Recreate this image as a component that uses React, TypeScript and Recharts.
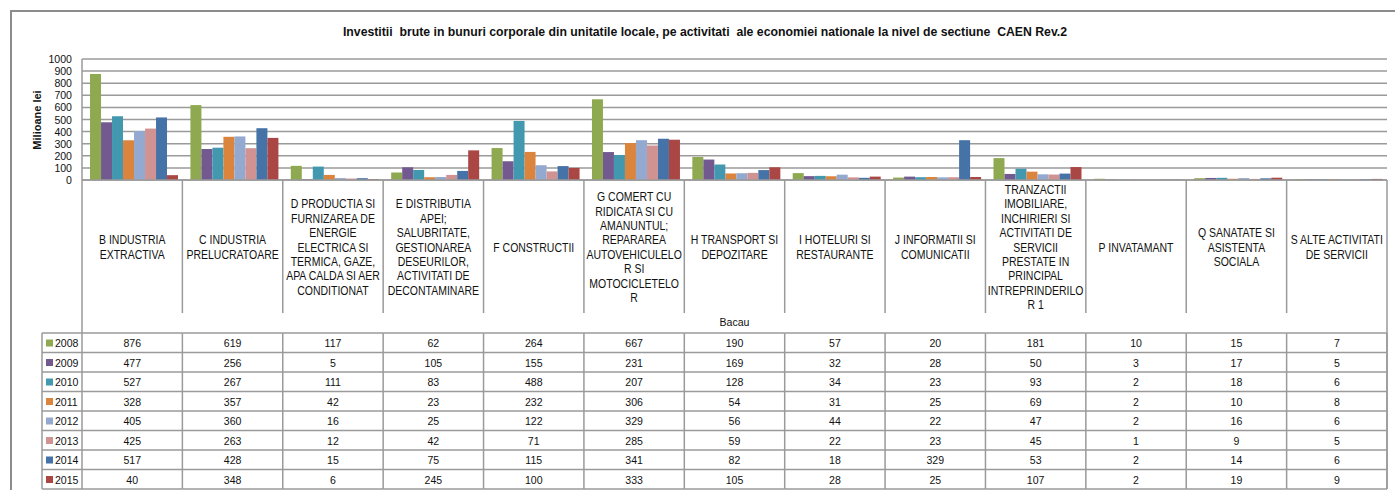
import { BarChart, Bar, XAxis, YAxis, CartesianGrid } from "recharts";

const categories = [
  "B INDUSTRIA\nEXTRACTIVA",
  "C INDUSTRIA\nPRELUCRATOARE",
  "D PRODUCTIA SI\nFURNIZAREA DE\nENERGIE\nELECTRICA SI\nTERMICA, GAZE,\nAPA CALDA SI AER\nCONDITIONAT",
  "E DISTRIBUTIA\nAPEI;\nSALUBRITATE,\nGESTIONAREA\nDESEURILOR,\nACTIVITATI DE\nDECONTAMINARE",
  "F CONSTRUCTII",
  "G COMERT CU\nRIDICATA SI CU\nAMANUNTUL;\nREPARAREA\nAUTOVEHICULELO\nR SI\nMOTOCICLETELO\nR",
  "H TRANSPORT SI\nDEPOZITARE",
  "I HOTELURI SI\nRESTAURANTE",
  "J INFORMATII SI\nCOMUNICATII",
  "TRANZACTII\nIMOBILIARE,\nINCHIRIERI SI\nACTIVITATI DE\nSERVICII\nPRESTATE IN\nPRINCIPAL\nINTREPRINDERILO\nR 1",
  "P INVATAMANT",
  "Q SANATATE SI\nASISTENTA\nSOCIALA",
  "S ALTE ACTIVITATI\nDE SERVICII",
];

const years = ["2008", "2009", "2010", "2011", "2012", "2013", "2014", "2015"];

const v2008 = [876, 619, 117, 62, 264, 667, 190, 57, 20, 181, 10, 15, 7];
const v2009 = [477, 256, 5, 105, 155, 231, 169, 32, 28, 50, 3, 17, 5];
const v2010 = [527, 267, 111, 83, 488, 207, 128, 34, 23, 93, 2, 18, 6];
const v2011 = [328, 357, 42, 23, 232, 306, 54, 31, 25, 69, 2, 10, 8];
const v2012 = [405, 360, 16, 25, 122, 329, 56, 44, 22, 47, 2, 16, 6];
const v2013 = [425, 263, 12, 42, 71, 285, 59, 22, 23, 45, 1, 9, 5];
const v2014 = [517, 428, 15, 75, 115, 341, 82, 18, 329, 53, 2, 14, 6];
const v2015 = [40, 348, 6, 245, 100, 333, 105, 28, 25, 107, 2, 19, 9];

const series = [v2008, v2009, v2010, v2011, v2012, v2013, v2014, v2015];
const yTicks = [0, 100, 200, 300, 400, 500, 600, 700, 800, 900, 1000];
const xTitle = "Bacau";

const COLORS = [
  "#8ea94f",
  "#725a90",
  "#4198af",
  "#db843d",
  "#93a9cf",
  "#d19392",
  "#4572a7",
  "#aa4643",
];

const data = categories.map((name, i) => {
  const row: any = { name };
  years.forEach((y, k) => {
    row[y] = series[k][i];
  });
  return row;
});

// layout
const W = 1395;
const H = 490;
const PLOT_LEFT = 82;
const PLOT_RIGHT = 1387;
const PLOT_TOP = 59;
const AXIS_Y = 180;
const LINE = "#9a9a9a";
const FONT = "'Liberation Sans', Arial, sans-serif";

const CategoryTick = (props: any) => {
  const { x, y, payload, index } = props;
  const colW = (PLOT_RIGHT - PLOT_LEFT) / categories.length;
  const left = x - colW / 2;
  const right = x + colW / 2;
  const lines = String(payload.value).split("\n");
  const mid = y + 67;
  const lh = 14.4;
  const last = index === categories.length - 1;
  const tableTop = y + 153;
  const rowH = 19.5;
  const tableBottom = tableTop + rowH * years.length;

  return (
    <g fontFamily={FONT}>
      <line
        x1={right}
        x2={right}
        y1={y}
        y2={last ? tableBottom : y + 133}
        stroke={LINE}
        strokeWidth={1.5}
      />
      {lines.map((ln, i) => (
        <text
          key={i}
          transform={`translate(${x},${mid + (i - (lines.length - 1) / 2) * lh + 4.5}) scale(0.84,1)`}
          textAnchor="middle"
          fontSize={12.5}
          fill="#111"
        >
          {ln}
        </text>
      ))}
      {index === 6 && (
        <text
          transform={`translate(${x},${y + 146}) scale(0.92,1)`}
          textAnchor="middle"
          fontSize={11.5}
          fill="#111"
        >
          {xTitle}
        </text>
      )}
      {index === 0 && (
        <g>
          <line x1={left} x2={left} y1={y} y2={tableBottom} stroke={LINE} strokeWidth={1.5} />
          <line x1={42} x2={42} y1={tableTop} y2={tableBottom} stroke={LINE} strokeWidth={1.5} />
          {years.map((yr, r) => (
            <g key={yr}>
              <line x1={42} x2={left} y1={tableTop + r * rowH} y2={tableTop + r * rowH} stroke={LINE} strokeWidth={1.5} />
              <rect x={46} y={tableTop + r * rowH + 6.5} width={7} height={7} fill={COLORS[r]} />
              <text
                transform={`translate(55,${tableTop + r * rowH + 14}) scale(0.92,1)`}
                fontSize={11.5}
                fill="#111"
              >
                {yr}
              </text>
            </g>
          ))}
          <line x1={42} x2={left} y1={tableBottom} y2={tableBottom} stroke={LINE} strokeWidth={1.5} />
        </g>
      )}
      {years.map((yr, r) => (
        <g key={yr}>
          <line x1={left} x2={right} y1={tableTop + r * rowH} y2={tableTop + r * rowH} stroke={LINE} strokeWidth={1.5} />
          <text
            transform={`translate(${x},${tableTop + r * rowH + 14}) scale(0.92,1)`}
            textAnchor="middle"
            fontSize={11.5}
            fill="#111"
          >
            {series[r][index]}
          </text>
        </g>
      ))}
      <line x1={left} x2={right} y1={tableBottom} y2={tableBottom} stroke={LINE} strokeWidth={1.5} />
      <line x1={right} x2={right} y1={tableTop} y2={tableBottom} stroke={LINE} strokeWidth={1.5} />
    </g>
  );
};

const ValueTick = (props: any) => {
  const { x, y, payload } = props;
  return (
    <text
      transform={`translate(${x},${y + 4}) scale(0.92,1)`}
      textAnchor="end"
      fontSize={11.5}
      fontFamily={FONT}
      fill="#111"
    >
      {payload.value}
    </text>
  );
};

const YLabel = () => (
  <text
    transform="translate(41,120) rotate(-90)"
    textAnchor="middle"
    fontSize={11}
    fontWeight="bold"
    fontFamily={FONT}
    fill="#111"
  >
    Milioane lei
  </text>
);

export default function App() {
  return (
    <div style={{ position: "absolute", left: 0, top: 0, width: W, height: H, background: "#fff" }}>
      <div
        style={{
          position: "absolute",
          left: 10,
          top: 10,
          width: W - 10,
          height: H - 10,
          boxSizing: "border-box",
          borderTop: "2px solid #8c8c8c",
          borderLeft: "2px solid #8c8c8c",
        }}
      />
      <div
        style={{
          position: "absolute",
          left: 255,
          top: 25,
          width: 900,
          textAlign: "center",
          fontFamily: FONT,
          fontWeight: "bold",
          fontSize: 12.5,
          color: "#111",
          whiteSpace: "pre",
          transform: "scaleX(0.98)",
        }}
      >
        {"Investitii  brute in bunuri corporale din unitatile locale, pe activitati  ale economiei nationale la nivel de sectiune  CAEN Rev.2"}
      </div>
      <div style={{ position: "absolute", left: 0, top: 0 }}>
        <BarChart
          width={W}
          height={H}
          data={data}
          margin={{ top: PLOT_TOP, right: W - PLOT_RIGHT, left: 0, bottom: 0 }}
          barCategoryGap="8%"
          barGap={0}
        >
          <CartesianGrid vertical={false} stroke={LINE} strokeWidth={1.5} />
          <XAxis
            dataKey="name"
            interval={0}
            height={H - AXIS_Y}
            tickSize={0}
            tickMargin={0}
            tick={<CategoryTick />}
            axisLine={{ stroke: LINE, strokeWidth: 1.5 }}
            tickLine={false}
          />
          <YAxis
            width={PLOT_LEFT}
            domain={[0, 1000]}
            ticks={yTicks}
            interval={0}
            tickSize={0}
            tickMargin={10}
            tick={<ValueTick />}
            axisLine={{ stroke: LINE, strokeWidth: 1.5 }}
            tickLine={false}
            label={<YLabel />}
          />
          {years.map((yr, k) => (
            <Bar key={yr} dataKey={yr} fill={COLORS[k]} isAnimationActive={false} />
          ))}
        </BarChart>
      </div>
    </div>
  );
}
